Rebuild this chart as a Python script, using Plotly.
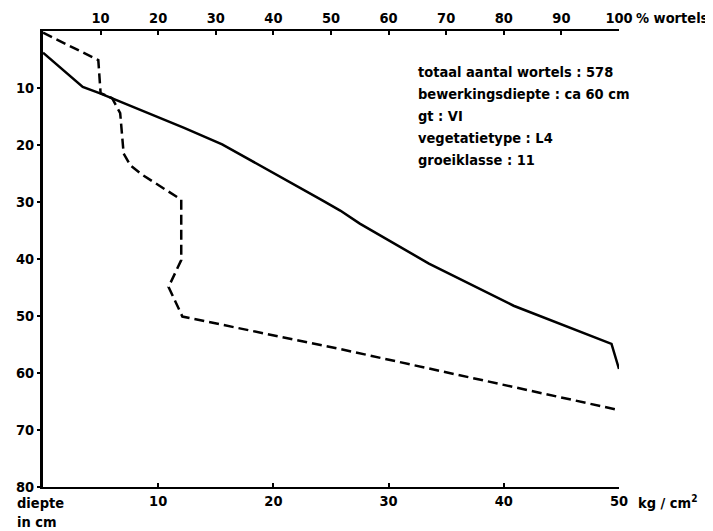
import plotly.graph_objects as go

# Solid line: cumulative % of roots (top axis) vs depth (cm)
roots_pct = [0, 6.9, 9.8, 24.5, 31.1, 43.0, 48.5, 51.6, 55.0, 67.0, 81.7, 98.7, 100.0]
roots_depth = [3.8, 9.8, 10.9, 17.0, 19.9, 26.5, 29.7, 31.5, 33.8, 40.8, 48.2, 54.9, 59.3]

# Dashed line: penetration resistance kg/cm2 (bottom axis) vs depth (cm)
res_kg = [0, 4.8, 5.0, 6.0, 6.7, 7.0, 7.6, 8.6, 12.0, 12.0, 10.9, 12.1, 25.8, 50.2]
res_depth = [0.3, 5.1, 10.9, 11.8, 14.4, 21.5, 23.6, 25.2, 29.6, 40.2, 44.9, 50.1, 55.8, 66.6]

bottom_ticks = [10, 20, 30, 40, 50]
top_ticks = [10, 20, 30, 40, 50, 60, 70, 80, 90, 100]
depth_ticks = [10, 20, 30, 40, 50, 60, 70, 80]

info_lines = [
    "totaal aantal wortels : 578",
    "bewerkingsdiepte : ca 60 cm",
    "gt : VI",
    "vegetatietype : L4",
    "groeiklasse : 11",
]

FONT = "DejaVu Sans Condensed, Liberation Sans Narrow, Arial Narrow, sans-serif"
tickfont = dict(family=FONT, size=14.5, color="black", weight="bold")
textfont = dict(family=FONT, size=14.5, color="black", weight="bold")

fig = go.Figure()
fig.add_trace(go.Scatter(
    x=res_kg, y=res_depth, mode="lines", xaxis="x", yaxis="y",
    line=dict(color="black", width=2.5, dash="10px,5px"), showlegend=False))
fig.add_trace(go.Scatter(
    x=roots_pct, y=roots_depth, mode="lines", xaxis="x2", yaxis="y",
    line=dict(color="black", width=2.5), showlegend=False))

axis_common = dict(showgrid=False, zeroline=False, showline=True, linecolor="black",
                   linewidth=2, tickcolor="black", tickfont=tickfont, automargin=False)

# page body has an 8px default margin, so the figure is 8px smaller than the window
fig.update_layout(
    template="none",
    width=705, height=523,
    margin=dict(l=35, r=94, t=23, b=44),
    plot_bgcolor="white", paper_bgcolor="white",
    xaxis=dict(range=[0, 50], tickvals=bottom_ticks, ticktext=[str(v) for v in bottom_ticks],
               ticks="inside", ticklen=4, tickwidth=1.5, side="bottom", **axis_common),
    xaxis2=dict(range=[0, 100], tickvals=top_ticks, ticktext=[str(v) for v in top_ticks],
                overlaying="x", side="top", ticks="inside", ticklen=4, tickwidth=1.5,
                **axis_common),
    yaxis=dict(range=[80, 0], tickvals=depth_ticks, ticktext=[str(v) for v in depth_ticks],
               ticks="outside", ticklen=3, tickwidth=1.5, **{**axis_common, "linewidth": 3}),
)

annots = []
ys = [0.910, 0.862, 0.814, 0.765, 0.717]
for t, yy in zip(info_lines, ys):
    annots.append(dict(text=t, xref="paper", yref="paper", x=0.6476, y=yy,
                       xanchor="left", yanchor="middle", showarrow=False, font=textfont))
annots.append(dict(text="diepte", xref="paper", yref="paper", x=-0.049, y=-0.035,
                   xanchor="left", yanchor="middle", showarrow=False, font=textfont))
annots.append(dict(text="in cm", xref="paper", yref="paper", x=-0.049, y=-0.076,
                   xanchor="left", yanchor="middle", showarrow=False, font=textfont))
annots.append(dict(text="kg / cm<sup>2</sup>", xref="paper", yref="paper", x=1.029, y=-0.033,
                   xanchor="left", yanchor="middle", showarrow=False, font=textfont))
annots.append(dict(text="% wortels", xref="paper", yref="paper", x=1.026, y=1.029,
                   xanchor="left", yanchor="middle", showarrow=False, font=textfont))
fig.update_layout(annotations=annots)

fig.write_html("out.html")
